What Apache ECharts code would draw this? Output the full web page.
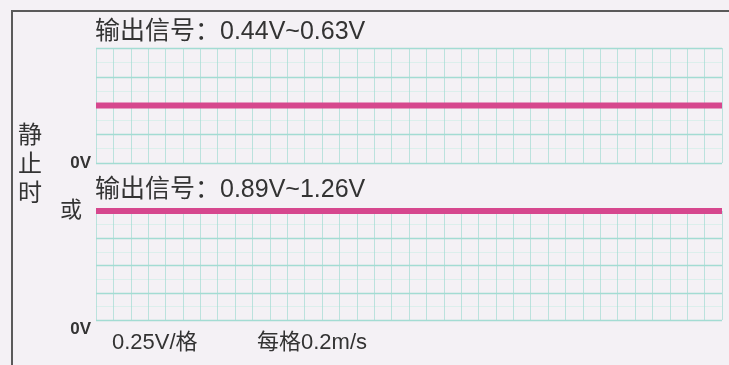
<!DOCTYPE html>
<html>
<head>
<meta charset="utf-8">
<script src="https://cdn.jsdelivr.net/npm/echarts@6/dist/echarts.min.js"></script>
<style>
html,body{margin:0;padding:0;background:#f4f1f5;}
#c{width:729px;height:365px;}
</style>
</head>
<body>
<div id="c"></div>
<script>
// Data
const timeDivs = [0, 36];                 // horizontal divisions (each 0.2 m/s)
const signalTop = [0.5, 0.5];             // V, 输出信号 0.44V~0.63V
const signalBottom = [1.0, 1.0];          // V, 输出信号 0.89V~1.26V
const titleTop = '输出信号：0.44V~0.63V';
const titleBottom = '输出信号：0.89V~1.26V';
const sideLabel = '静\n止\n时';
const orLabel = '或';
const voltScale = '0.25V/格';
const speedScale = '每格0.2m/s';
const zeroTick = '0V';

const chart = echarts.init(document.getElementById('c'));
const gridColor = '#a3dcd3';
const minorColor = '#dcefec';
const pink = '#d6478e';
const txt = '#333333';
const fam = '"Liberation Sans", "Noto Sans CJK SC", sans-serif';

function xAxis(i){
  return {gridIndex:i, type:'value', min:0, max:36, interval:1,
    axisLine:{show:false}, axisTick:{show:false}, axisLabel:{show:false},
    splitLine:{show:true, lineStyle:{color:gridColor, width:1, opacity:0.7}},
    minorSplitLine:{show:false}};
}
function yAxis(i, pad){
  return {gridIndex:i, type:'value', min:0, max:1, interval:0.25,
    axisLine:{show:false}, axisTick:{show:false},
    axisLabel:{show:true, margin:5, color:txt, fontSize:17, fontWeight:'bold',
      fontFamily:'"Liberation Sans", sans-serif', padding:pad,
      formatter: v => v === 0 ? zeroTick : ''},
    splitLine:{show:true, lineStyle:{color:gridColor, width:1.4}},
    minorTick:{show:false, splitNumber:2},
    minorSplitLine:{show:true, lineStyle:{color:minorColor, width:1}}};
}
function mk(arr){ return timeDivs.map((t,k)=>[t, arr[k]]); }

chart.setOption({
  backgroundColor:'#f4f1f5',
  animation:false,
  grid:[
    {left:96, right:7, top:48, height:115},
    {left:96, right:7, top:211, height:109}
  ],
  xAxis:[xAxis(0), xAxis(1)],
  yAxis:[yAxis(0,[0,0,0,0]), yAxis(1,[0,0,0,0])],
  series:[
    {type:'line', xAxisIndex:0, yAxisIndex:0, data:mk(signalTop), symbol:'none', clip:false,
      lineStyle:{color:pink, width:6}},
    {type:'line', xAxisIndex:1, yAxisIndex:1, data:mk(signalBottom), symbol:'none', clip:false,
      lineStyle:{color:pink, width:6}}
  ],
  graphic:[
    {type:'rect', shape:{x:12, y:11, width:740, height:420}, style:{fill:null, stroke:'#5a5a5a', lineWidth:2}, z:10},
    {type:'text', left:95, top:20, style:{text:titleTop, font:'25px '+fam, fill:txt}},
    {type:'text', left:95, top:178, style:{text:titleBottom, font:'25px '+fam, fill:txt}},
    {type:'text', left:18, top:122, style:{text:sideLabel, font:'24px '+fam, fill:txt, lineHeight:29}},
    {type:'text', left:60, top:200, style:{text:orLabel, font:'22px '+fam, fill:txt}},
    {type:'text', left:112, top:332, style:{text:voltScale, font:'22px '+fam, fill:txt}},
    {type:'text', left:257, top:332, style:{text:speedScale, font:'22px '+fam, fill:txt}}
  ]
});
// shift the lower panel's 0V tick label down slightly to match the reference
chart.setOption({yAxis:[{}, {axisLabel:{verticalAlign:'top', lineHeight:18, padding:[0,0,0,0]}}]});
</script>
</body>
</html>
